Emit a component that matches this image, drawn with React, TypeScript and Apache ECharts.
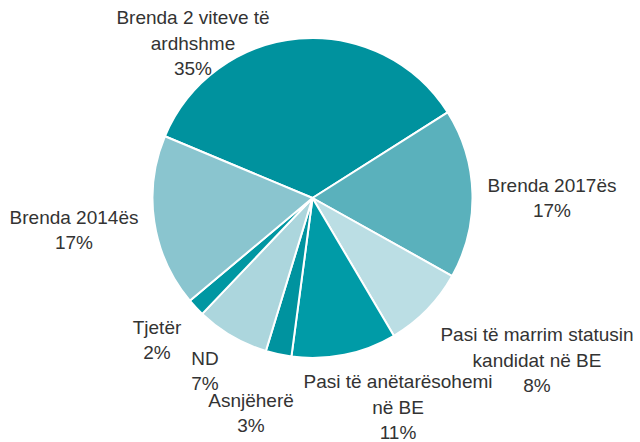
import React, { useEffect, useRef } from "react";
import * as echarts from "echarts";

const categories = [
  "Brenda 2 viteve të\nardhshme",
  "Brenda 2017ës",
  "Pasi të marrim statusin\nkandidat në BE",
  "Pasi të anëtarësohemi\nnë BE",
  "Asnjëherë",
  "ND",
  "Tjetër",
  "Brenda 2014ës",
];
const values = [34.7, 17.1, 8.4, 10.6, 2.6, 7.4, 1.8, 17.4];
const colors = [
  "#00929E",
  "#5AB1BC",
  "#BBDEE4",
  "#009BA7",
  "#00939F",
  "#ACD6DD",
  "#0097A2",
  "#8AC5CF",
];
// label block centres (layout only)
const labelPos: [number, number][] = [
  [193, 43],
  [552, 198],
  [537, 360],
  [398, 407],
  [251, 413],
  [205, 371],
  [157, 340],
  [74, 230],
];

export default function App() {
  const ref = useRef<HTMLDivElement>(null);
  useEffect(() => {
    if (!ref.current) return;
    const chart = echarts.init(ref.current, null, { renderer: "svg" });
    chart.setOption({
      animation: false,
      backgroundColor: "#ffffff",
      series: [
        {
          type: "pie",
          center: [312.5, 198],
          radius: 160,
          startAngle: 157.3,
          clockwise: true,
          avoidLabelOverlap: false,
          itemStyle: { borderColor: "#ffffff", borderWidth: 2 },
          label: {
            show: true,
            position: "outside",
            color: "#333333",
            fontFamily: "Liberation Sans",
            fontSize: 19,
            lineHeight: 25.5,
            align: "center",
            formatter: (p: any) => `${p.name}\n${Math.round(p.value)}%`,
          },
          labelLine: { show: false },
          labelLayout: (params: any) => {
            const pos = labelPos[params.dataIndex];
            return { x: pos[0], y: pos[1], align: "center", verticalAlign: "middle" };
          },
          emphasis: { disabled: true },
          data: categories.map((c, i) => ({
            name: c,
            value: values[i],
            itemStyle: { color: colors[i] },
          })),
        },
      ],
    });
    return () => chart.dispose();
  }, []);
  return (
    <div
      ref={ref}
      style={{ position: "fixed", left: 0, top: 0, width: 640, height: 442 }}
    />
  );
}
